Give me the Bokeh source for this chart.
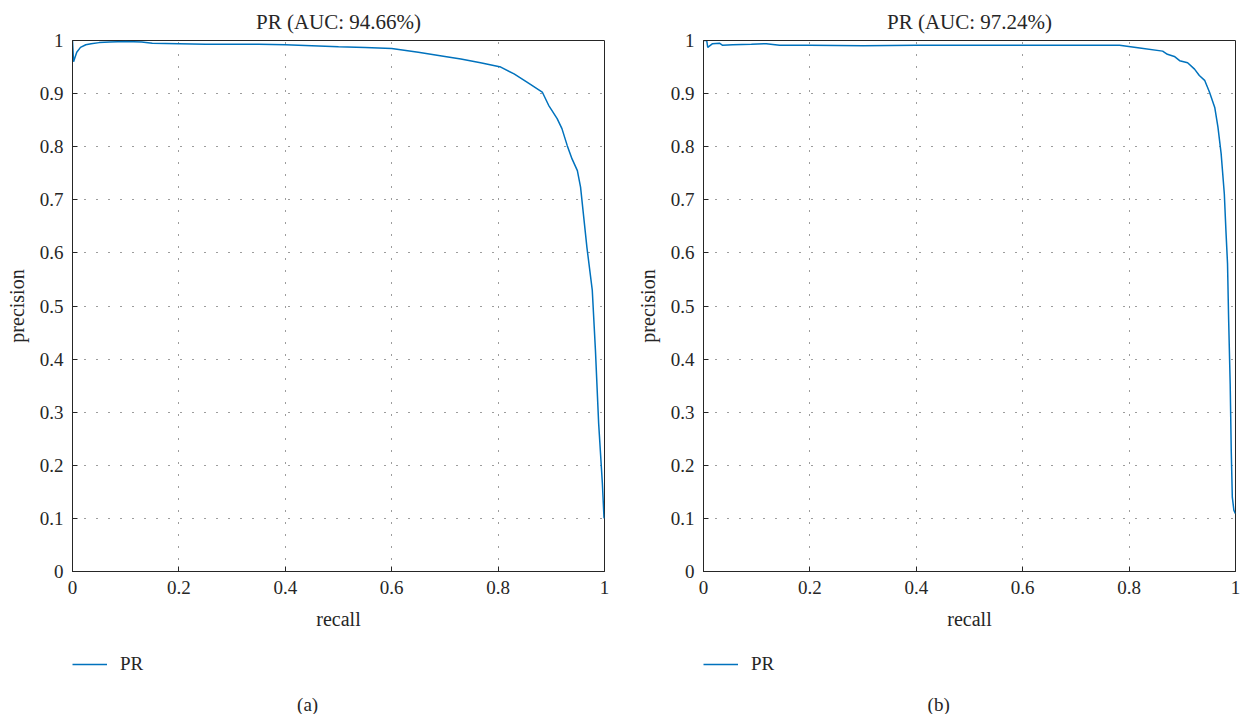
from bokeh.plotting import figure
from bokeh.models import Range1d, FixedTicker, Legend, LegendItem, Label
from bokeh.layouts import row, column
from bokeh.embed import file_html
from bokeh.resources import INLINE

recall_a = [0, 0.002, 0.004, 0.008, 0.015, 0.025, 0.035, 0.05, 0.07, 0.1, 0.13, 0.15, 0.2,
            0.25, 0.3, 0.35, 0.4, 0.45, 0.5, 0.55, 0.6, 0.65, 0.7, 0.73, 0.767, 0.805, 0.83,
            0.855, 0.883, 0.895, 0.911, 0.92, 0.93, 0.939, 0.949, 0.955, 0.961, 0.967, 0.977,
            0.983, 0.989, 0.996, 0.999, 1.0]
precision_a = [1.0, 0.96, 0.966, 0.978, 0.987, 0.992, 0.994, 0.996, 0.997, 0.998, 0.997, 0.995,
               0.994, 0.993, 0.993, 0.993, 0.992, 0.990, 0.988, 0.987, 0.985, 0.978, 0.970,
               0.965, 0.958, 0.950, 0.937, 0.921, 0.903, 0.878, 0.853, 0.834, 0.802, 0.777,
               0.755, 0.724, 0.667, 0.610, 0.530, 0.416, 0.279, 0.166, 0.102, 0.100]

recall_b = [0, 0.006, 0.008, 0.017, 0.03, 0.036, 0.055, 0.09, 0.118, 0.143, 0.2, 0.3, 0.4, 0.5,
            0.6, 0.7, 0.76, 0.782, 0.82, 0.863, 0.872, 0.885, 0.895, 0.91, 0.923, 0.932, 0.942,
            0.951, 0.961, 0.967, 0.973, 0.979, 0.982, 0.985, 0.987, 0.990, 0.992, 0.994, 0.997,
            1.0]
precision_b = [1.0, 1.0, 0.987, 0.994, 0.995, 0.991, 0.992, 0.993, 0.994, 0.991, 0.991, 0.990,
               0.991, 0.991, 0.991, 0.991, 0.991, 0.991, 0.986, 0.980, 0.974, 0.970, 0.962,
               0.958, 0.946, 0.934, 0.925, 0.903, 0.874, 0.837, 0.787, 0.711, 0.642, 0.580,
               0.479, 0.353, 0.228, 0.140, 0.115, 0.109]

titles = ["PR (AUC: 94.66%)", "PR (AUC: 97.24%)"]
captions = ["(a)", "(b)"]
series_name = "PR"
x_ticks = [0, 0.2, 0.4, 0.6, 0.8, 1]
x_labels = ["0", "0.2", "0.4", "0.6", "0.8", "1"]
y_ticks = [0, 0.1, 0.2, 0.3, 0.4, 0.5, 0.6, 0.7, 0.8, 0.9, 1]
y_labels = ["0", "0.1", "0.2", "0.3", "0.4", "0.5", "0.6", "0.7", "0.8", "0.9", "1"]

FONT = "Liberation Serif"
BLUE = "#0072BD"
DARK = "#262626"

TOP, FRAME_H, BOTTOM = 40, 531, 66
FOOT_H = 77


def make_panel(rec, prec, title, caption, width, bl, br):
    p = figure(width=width, height=TOP + FRAME_H + BOTTOM,
               x_range=Range1d(0, 1), y_range=Range1d(0, 1),
               output_backend="svg", toolbar_location=None,
               min_border_left=bl, min_border_right=br,
               min_border_top=TOP, min_border_bottom=BOTTOM)
    p.title.text = title
    p.title.align = "center"
    p.title.text_font = FONT
    p.title.text_font_size = "21px"
    p.title.text_font_style = "normal"
    p.title.text_color = DARK
    p.title.standoff = 10
    p.title.vertical_align = "top"
    p.outline_line_color = DARK
    p.outline_line_width = 1
    p.outline_line_alpha = 1

    for ax, ticks, labels, name in ((p.xaxis[0], x_ticks, x_labels, "recall"),
                                    (p.yaxis[0], y_ticks, y_labels, "precision")):
        ax.ticker = FixedTicker(ticks=ticks)
        ax.major_label_overrides = {t: l for t, l in zip(ticks, labels)}
        ax.axis_label = name
        ax.axis_label_text_font = FONT
        ax.axis_label_text_font_size = "20px"
        ax.axis_label_text_font_style = "normal"
        ax.axis_label_text_color = DARK
        ax.major_label_text_font = FONT
        ax.major_label_text_font_size = "19px"
        ax.major_label_text_color = DARK
        ax.axis_line_color = DARK
        ax.major_tick_line_color = DARK
        ax.major_tick_in = 5
        ax.major_tick_out = 0
        ax.minor_tick_line_color = None
        ax.major_label_standoff = 9
    p.xaxis[0].axis_label_standoff = 11
    p.yaxis[0].axis_label_standoff = 9

    for g in (p.xgrid[0], p.ygrid[0]):
        g.grid_line_color = "#262626"
        g.grid_line_dash = "1 11"
        g.grid_line_width = 1
        g.grid_line_alpha = 0.9

    p.line(rec, prec, line_color=BLUE, line_width=1.5)

    # footer: legend + caption
    f = figure(width=width, height=FOOT_H, x_range=Range1d(0, 1), y_range=Range1d(FOOT_H, 0),
               output_backend="svg", toolbar_location=None,
               x_axis_type=None, y_axis_type=None,
               min_border_left=bl, min_border_right=br, min_border_top=0, min_border_bottom=0)
    f.extra_y_ranges = {"offscreen": Range1d(5, 6)}
    f.outline_line_color = None
    f.xgrid.visible = False
    f.ygrid.visible = False
    # same series, mapped outside the footer's view: only its legend entry shows
    proxy = f.line(rec, prec, line_color=BLUE, line_width=1.5, y_range_name="offscreen")
    legend = Legend(items=[LegendItem(label=series_name, renderers=[proxy])],
                    location=(0, FOOT_H - 28 - 10),
                    margin=0, padding=0, border_line_alpha=0, background_fill_alpha=0,
                    glyph_width=35, glyph_height=20, label_height=20, label_standoff=13,
                    label_text_font=FONT, label_text_font_size="19px",
                    label_text_color=DARK)
    f.add_layout(legend)
    f.add_layout(Label(x=0.442, y=67, text=caption, text_align="center",
                       text_baseline="middle", text_font=FONT, text_font_size="19px",
                       text_color=DARK))
    return column(p, f, spacing=0)


pa = make_panel(recall_a, precision_a, titles[0], captions[0], 632, 72, 28)
pb = make_panel(recall_b, precision_b, titles[1], captions[1], 611, 71, 8)

layout = row(pa, pb, spacing=0)
open("out.html", "w").write(file_html(layout, INLINE))
